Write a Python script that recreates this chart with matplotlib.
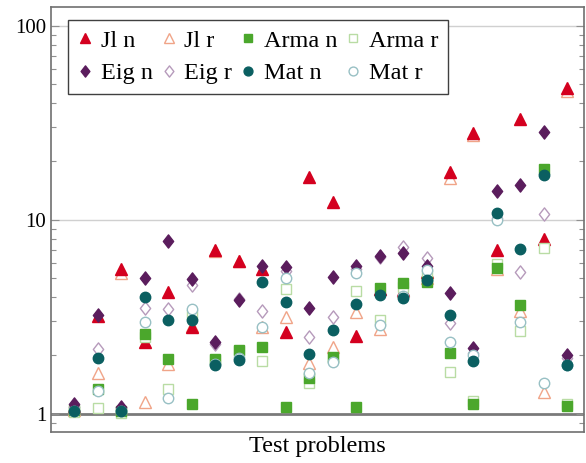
import numpy as np
import matplotlib.pyplot as plt
from matplotlib.path import Path
from matplotlib.ticker import LogLocator, NullFormatter, FixedLocator

# 22 test problems, speed-up factors
problems = np.arange(1, 23)

jl_n = [1.1, 3.2, 5.57, 2.34, 4.27, 2.8, 6.95, 6.15, 5.6, 2.64, 16.7,
        12.4, 2.53, 4.4, 4.36, 5.4, 17.6, 28.0, 6.95, 33.0, 7.98, 47.5]
jl_r = [1.05, 1.62, 5.3, 1.15, 1.81, 2.85, 6.9, 6.1, 2.8, 3.15, 1.84,
        2.22, 3.37, 2.73, 4.3, 5.0, 16.4, 27.5, 5.6, 3.41, 1.30, 46.0]
arma_n = [1.05, 1.34, 1.03, 2.58, 1.91, 1.12, 1.91, 2.14, 2.2, 1.08, 1.53,
          1.97, 1.08, 4.45, 4.75, 4.81, 2.07, 1.13, 5.64, 3.65, 18.3, 1.1]
arma_r = [1.02, 1.07, 1.01, 2.5, 1.35, 3.24, 1.9, 2.1, 1.88, 4.39, 1.45,
          1.93, 4.31, 3.03, 4.5, 5.2, 1.64, 1.16, 5.93, 2.69, 7.14, 1.12]
eig_n = [1.12, 3.24, 1.09, 5.0, 7.8, 4.95, 2.34, 3.86, 5.8, 5.74, 3.52,
         5.07, 5.8, 6.52, 6.78, 5.8, 4.22, 2.18, 14.0, 15.1, 28.3, 2.0]
eig_r = [1.08, 2.17, 1.07, 3.53, 3.46, 4.62, 2.3, 3.9, 3.41, 5.48, 2.5,
         3.17, 5.6, 6.4, 7.28, 6.35, 2.93, 2.05, 10.2, 5.38, 10.7, 1.95]
mat_n = [1.03, 1.95, 1.03, 4.02, 3.05, 3.03, 1.78, 1.9, 4.81, 3.79, 2.04,
         2.71, 3.68, 4.1, 3.95, 4.91, 3.24, 1.88, 10.9, 7.06, 17.1, 1.79]
mat_r = [1.04, 1.32, 1.04, 2.96, 1.21, 3.46, 1.8, 1.95, 2.8, 5.0, 1.62,
         1.86, 5.35, 2.88, 4.05, 5.5, 2.36, 2.0, 10.0, 2.97, 1.44, 1.78]

plt.rcParams['font.family'] = ['Liberation Serif', 'DejaVu Serif']

# slightly squashed diamond, like pgfplots diamond*
diamond = Path([(0, 1), (0.78, 0), (0, -1), (-0.78, 0), (0, 1)],
               [Path.MOVETO, Path.LINETO, Path.LINETO, Path.LINETO, Path.CLOSEPOLY])

fig = plt.figure(figsize=(5.86, 4.63), dpi=100)
ax = fig.add_axes([0.087, 0.067, 0.91, 0.918])

ax.axhline(1, color='#7a7a7a', lw=2.0, zorder=1)
for g in (10, 100):
    ax.axhline(g, color='#d0d0d0', lw=1.0, zorder=1)

# (label, data, marker, colour, filled, size)
series = [
    ('Jl r', jl_r, '^', '#f0a488', False, 8.5),
    ('Jl n', jl_n, '^', '#d4001f', True, 8.5),
    ('Arma r', arma_r, 's', '#b9dca4', False, 7),
    ('Arma n', arma_n, 's', '#4ba72c', True, 7),
    ('Eig r', eig_r, diamond, '#b69abb', False, 9.5),
    ('Eig n', eig_n, diamond, '#5b1d5d', True, 9.5),
    ('Mat r', mat_r, 'o', '#98c0c4', False, 7.5),
    ('Mat n', mat_n, 'o', '#0b5f61', True, 7.5),
]
handles = {}
for lab, vals, mk, col, filled, ms in series:
    h, = ax.plot(problems, vals, linestyle='none', marker=mk, ms=ms,
                 markerfacecolor=col if filled else 'white',
                 markeredgecolor=col, markeredgewidth=1.0, label=lab,
                 zorder=3)
    handles[lab] = h

ax.set_yscale('log')
ax.set_ylim(0.807, 125)
ax.set_xlim(0, 22.72)
ax.set_xticks([])
ax.yaxis.set_major_locator(FixedLocator([1, 10, 100]))
ax.set_yticklabels(['1', '10', '100'])
ax.yaxis.set_minor_locator(LogLocator(base=10, subs=np.arange(2, 10)))
ax.yaxis.set_minor_formatter(NullFormatter())
ax.tick_params(axis='y', which='both', direction='in', left=True, right=True,
               colors='#909090', labelcolor='black', labelsize=15)
ax.tick_params(axis='y', which='major', length=6, width=0.8)
ax.tick_params(axis='y', which='minor', length=3.5, width=0.8)
for s in ax.spines.values():
    s.set_color('#707070')
    s.set_linewidth(1.2)

ax.set_xlabel('Test problems', fontsize=17.5, labelpad=3)

order = ['Jl n', 'Eig n', 'Jl r', 'Eig r', 'Arma n', 'Mat n', 'Arma r', 'Mat r']
leg = ax.legend([handles[k] for k in order], order, ncol=4, loc='upper left',
                bbox_to_anchor=(0.032, 0.969), borderaxespad=0,
                fontsize=17.5, markerscale=0.85, handlelength=0.6,
                handletextpad=0.35, columnspacing=0.35, labelspacing=0.42,
                borderpad=0.4, fancybox=False, framealpha=1)
leg.get_frame().set_edgecolor('#404040')
leg.get_frame().set_linewidth(1.0)

fig.savefig('out.png', dpi=100)
